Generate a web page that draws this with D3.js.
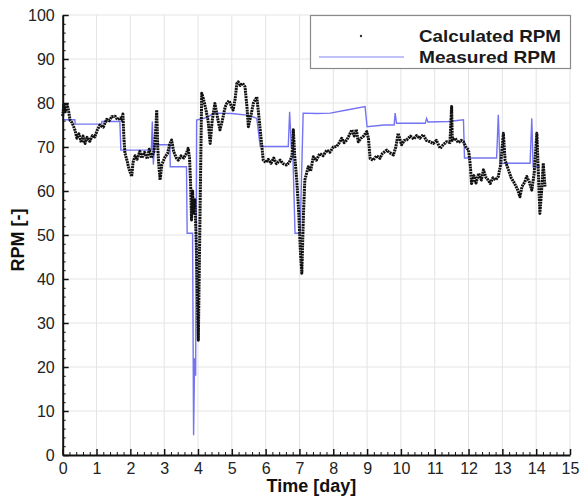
<!DOCTYPE html>
<html>
<head>
<meta charset="utf-8">
<script src="https://cdn.jsdelivr.net/npm/d3@7"></script>
<style>
  html, body { margin: 0; padding: 0; background: #fff; }
  svg { display: block; font-family: "Liberation Sans", Arial, Helvetica, sans-serif; }
</style>
</head>
<body>
<svg id="chart" width="582" height="497"></svg>
<script>
// Calculated RPM: [time in days, rpm]
const calculatedRPM = [
  [0.00,77],[0.03,79.5],[0.08,78],[0.12,80],[0.17,78.4],[0.22,76],[0.28,75.5],[0.36,73.9],
  [0.42,72],[0.48,73],[0.55,71],[0.60,72.5],[0.66,70.8],[0.72,72.2],[0.80,71.3],[0.88,72.6],
  [0.95,72.3],[1.02,73.8],[1.10,75],[1.20,74.5],[1.30,76.3],[1.38,76],[1.45,76.9],[1.55,77],
  [1.62,76.2],[1.70,76.6],[1.74,76.1],[1.78,77.5],[1.81,72],[1.84,68.6],[1.90,67],[1.96,65],
  [2.04,63.3],[2.08,66.5],[2.14,68],[2.20,67.2],[2.28,69],[2.34,67.5],[2.42,68.8],[2.50,67.3],
  [2.56,69.5],[2.62,67.5],[2.70,69],[2.76,75],[2.78,78.4],[2.81,70],[2.84,66],[2.88,62.5],
  [2.93,66],[3.03,67.8],[3.10,68.5],[3.16,70.5],[3.22,71.6],[3.28,69],[3.36,67.5],[3.42,67],
  [3.50,68],[3.58,67.5],[3.66,68.6],[3.71,69.7],[3.75,67.5],[3.78,62],[3.81,53.4],[3.84,60],
  [3.87,55],[3.91,58],[3.95,48],[4.01,26.1],[4.07,60],[4.11,82.2],[4.16,81],[4.22,79],
  [4.30,76],[4.36,70.8],[4.42,76],[4.50,79.9],[4.57,77],[4.65,73.9],[4.72,76],[4.80,79],
  [4.85,79.9],[4.92,80.5],[5.00,79],[5.04,78.4],[5.10,81],[5.15,84.5],[5.19,84.8],[5.25,84],
  [5.32,84.5],[5.39,83.7],[5.45,79],[5.49,74.6],[5.56,77],[5.64,80],[5.74,81.4],[5.80,77],
  [5.88,70.8],[5.93,67],[6.00,66.5],[6.08,67.2],[6.16,66.3],[6.24,67.5],[6.32,66.2],[6.43,67],
  [6.52,66.2],[6.62,65.9],[6.70,66.5],[6.78,68],[6.82,73.9],[6.86,68],[6.92,62.5],[6.98,55],
  [7.03,46],[7.07,41.3],[7.12,55],[7.16,62.5],[7.26,65.5],[7.33,64.5],[7.41,67.8],[7.50,67],
  [7.60,68.5],[7.70,68],[7.81,69.3],[7.90,68.8],[8.00,70],[8.10,70.1],[8.18,71],[8.25,72],
  [8.32,71],[8.40,71.6],[8.48,72.8],[8.55,73.9],[8.62,72.5],[8.68,74],[8.74,71.2],[8.82,72],
  [8.90,72.5],[8.99,73.5],[9.04,72],[9.09,67.4],[9.18,67],[9.28,68],[9.38,67.4],[9.45,68.5],
  [9.58,69.3],[9.65,68.8],[9.78,68.2],[9.85,70],[9.92,73.1],[10.02,70.5],[10.10,71.5],[10.17,71.6],
  [10.28,72.5],[10.38,71.8],[10.46,72.6],[10.56,72],[10.66,72.8],[10.75,71.5],[10.86,71.2],[10.96,70.8],
  [11.05,71.5],[11.16,69.7],[11.25,70.5],[11.35,71.2],[11.45,71],[11.50,79.2],[11.52,71.5],[11.60,72],
  [11.70,71],[11.78,71.5],[11.85,71.2],[11.92,70],[12.00,69.3],[12.05,66],[12.09,61.7],[12.16,63.5],
  [12.22,61.8],[12.30,64],[12.38,62.5],[12.44,64.8],[12.52,63],[12.58,62.5],[12.64,61.7],[12.72,63],
  [12.80,62.5],[12.88,63.3],[12.95,66],[13.03,73.1],[13.08,67],[13.18,64.8],[13.26,63],[13.34,62],
  [13.44,60.5],[13.52,58.7],[13.58,61],[13.66,62],[13.72,63.3],[13.80,62],[13.87,60.2],[13.94,64],
  [14.02,73.1],[14.06,65],[14.11,54.9],[14.16,60],[14.21,66.3],[14.26,61]
];

// Measured RPM: [time in days, rpm]
const measuredRPM = [
  [0.00,76.2],[0.36,76.2],[0.37,75.2],[1.15,75.2],[1.16,75.8],[1.69,75.8],[1.72,69.3],[2.62,69.3],
  [2.65,75.8],[2.68,66],[2.72,70.5],[3.17,70.5],[3.18,65.5],[3.66,65.5],[3.68,50.4],[3.84,50.4],
  [3.87,4.5],[3.90,22],[3.93,18],[3.96,76.1],[4.30,76.8],[4.45,77.7],[5.00,77.6],[5.50,77.2],
  [5.74,76.5],[5.84,70.1],[6.67,70.1],[6.71,78],[6.76,70],[6.80,70],[6.87,50.4],[7.02,50.4],
  [7.11,77.7],[7.50,77.6],[7.91,77.7],[8.40,78.4],[8.94,79.2],[9.00,74.6],[9.50,75],[9.80,75],
  [9.83,77.7],[9.87,75.4],[10.72,75.4],[10.76,76.5],[10.80,75.7],[11.40,75.8],[11.85,76.2],[11.88,67.5],
  [12.83,67.5],[12.88,77.3],[12.93,66.3],[13.82,66.3],[13.87,76.5],[13.91,65.5],[14.11,65.5]
];

const xTicks = d3.range(0, 16);
const yTicks = d3.range(0, 101, 10);
const xLabel = "Time [day]";
const yLabel = "RPM [-]";
const seriesNames = ["Calculated RPM", "Measured RPM"];

const W = 582, H = 497;
const margin = { left: 62.7, right: 12, top: 15, bottom: 42 };
const svg = d3.select("#chart");

const x = d3.scaleLinear().domain([0, 15]).range([margin.left, W - margin.right]);
const y = d3.scaleLinear().domain([0, 100]).range([H - margin.bottom, margin.top]);

// grid
const grid = svg.append("g").attr("stroke", "#e4e4e4").attr("stroke-width", 1);
grid.selectAll("line.v").data(xTicks.slice(1)).join("line")
  .attr("x1", d => x(d)).attr("x2", d => x(d))
  .attr("y1", y(0)).attr("y2", y(100));
grid.selectAll("line.h").data(yTicks.slice(1)).join("line")
  .attr("y1", d => y(d)).attr("y2", d => y(d))
  .attr("x1", x(0)).attr("x2", x(15));

// series
const line = d3.line().x(d => x(d[0])).y(d => y(d[1]));

svg.append("path").datum(measuredRPM)
  .attr("fill", "none").attr("stroke", "#7474f2").attr("stroke-width", 1.4)
  .attr("d", line);

svg.append("path").datum(calculatedRPM)
  .attr("fill", "none").attr("stroke", "#111").attr("stroke-width", 3)
  .attr("stroke-dasharray", "2 0.7")
  .attr("stroke-linejoin", "round")
  .attr("d", line);

// axes
function styleAxis(g) {
  g.select(".domain").attr("stroke", "#111").attr("stroke-width", 2);
  g.selectAll(".tick line").attr("stroke", "#111").attr("stroke-width", 1.5);
  g.selectAll(".tick text").attr("fill", "#222").style("font-size", "16px");
}

const xMinor = d3.range(0, 15.001, 0.2).filter(v => Math.abs(v - Math.round(v)) > 1e-6);
svg.append("g").attr("transform", `translate(0,${y(0)})`)
  .call(d3.axisBottom(x).tickValues(xMinor).tickSize(-3).tickFormat(""))
  .call(g => { g.select(".domain").remove(); g.selectAll(".tick line").attr("stroke", "#111").attr("stroke-width", 1); });

const yMinor = d3.range(0, 100.001, 2).filter(v => v % 10 !== 0);
svg.append("g").attr("transform", `translate(${x(0)},0)`)
  .call(d3.axisLeft(y).tickValues(yMinor).tickSize(-3).tickFormat(""))
  .call(g => { g.select(".domain").remove(); g.selectAll(".tick line").attr("stroke", "#111").attr("stroke-width", 1); });

svg.append("g").attr("transform", `translate(0,${y(0)})`)
  .call(d3.axisBottom(x).tickValues(xTicks).tickSize(-6).tickSizeOuter(0).tickPadding(8).tickFormat(d3.format("d")))
  .call(styleAxis);

svg.append("g").attr("transform", `translate(${x(0)},0)`)
  .call(d3.axisLeft(y).tickValues(yTicks).tickSize(-6).tickSizeOuter(0).tickPadding(8).tickFormat(d3.format("d")))
  .call(styleAxis);

// axis titles
svg.append("text")
  .attr("x", (x(0) + x(15)) / 2 - 5).attr("y", 492)
  .attr("text-anchor", "middle")
  .style("font-size", "18px").style("font-weight", "bold").attr("fill", "#111")
  .text(xLabel);

svg.append("text")
  .attr("transform", `translate(24,${(y(0) + y(100)) / 2 + 5}) rotate(-90)`)
  .attr("text-anchor", "middle")
  .style("font-size", "18px").style("font-weight", "bold").attr("fill", "#111")
  .text(yLabel);

// legend
const lg = svg.append("g");
lg.append("rect").attr("x", 310.5).attr("y", 15.5).attr("width", 260).attr("height", 53)
  .attr("fill", "#fff").attr("stroke", "#8a8a8a").attr("stroke-width", 1.2);
lg.append("circle").attr("cx", 361).attr("cy", 36).attr("r", 1.2).attr("fill", "#333");
lg.append("line").attr("x1", 319).attr("x2", 404).attr("y1", 57).attr("y2", 57)
  .attr("stroke", "#7474f2").attr("stroke-opacity", 0.6).attr("stroke-width", 1.5);
lg.selectAll("text.leg").data(seriesNames).join("text")
  .attr("x", 419).attr("y", (d, i) => 41.5 + i * 21.5)
  .style("font-size", "17px").style("font-weight", "bold").attr("fill", "#1a1a1a")
  .attr("textLength", (d, i) => i === 0 ? 142 : 137)
  .attr("lengthAdjust", "spacingAndGlyphs")
  .text(d => d);
</script>
</body>
</html>
